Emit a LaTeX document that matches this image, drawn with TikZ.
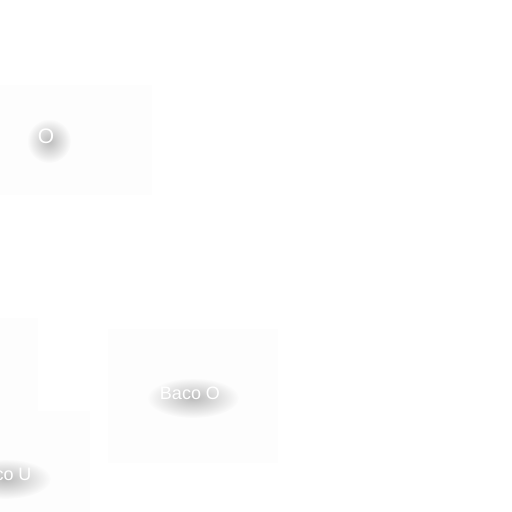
\documentclass[tikz,border=0pt]{standalone}
\usepackage{fontspec}
\setmainfont{Liberation Sans}
\usetikzlibrary{fadings}
\tikzfading[name=glowfade, inner color=transparent!20, outer color=transparent!100]
\tikzset{
  panel/.style={fill=black!0.9, draw=none, inner sep=0pt, anchor=north west},
  lbl/.style={text=white, font=\fontsize{18}{20}\selectfont, inner sep=0pt},
  glow/.style={fill=black, opacity=0.32, path fading=glowfade},
}
\begin{document}
\begin{tikzpicture}[x=1pt,y=-1pt]
  \useasboundingbox (0,0) rectangle (512,512);
  \fill[white] (0,0) rectangle (512,512);

  % panels
  \node[panel, minimum width=154pt, minimum height=110pt] (topbox) at (-2,85) {};
  \node[panel, minimum width=40pt, minimum height=133pt] (leftbox) at (-2,318) {};
  \node[panel, minimum width=170pt, minimum height=134pt] (bacoobox) at (108,329) {};
  \node[panel, minimum width=92pt, minimum height=103pt] (bacoubox) at (-2,411) {};

  % shadows under the labels
  \fill[glow] (49,141) ellipse (22pt and 22pt);
  \fill[glow] (193,398) ellipse (46pt and 20pt);
  \fill[glow] (5,479) ellipse (46pt and 20pt);

  % labels
  \node[lbl, font=\fontsize{21}{24}\selectfont] (otext) at (46,136) {O};
  \node[lbl] (bacoo) at (190,393) {Baco O};
  \node[lbl] (bacou) at (2,474) {Baco U};
\end{tikzpicture}
\end{document}
